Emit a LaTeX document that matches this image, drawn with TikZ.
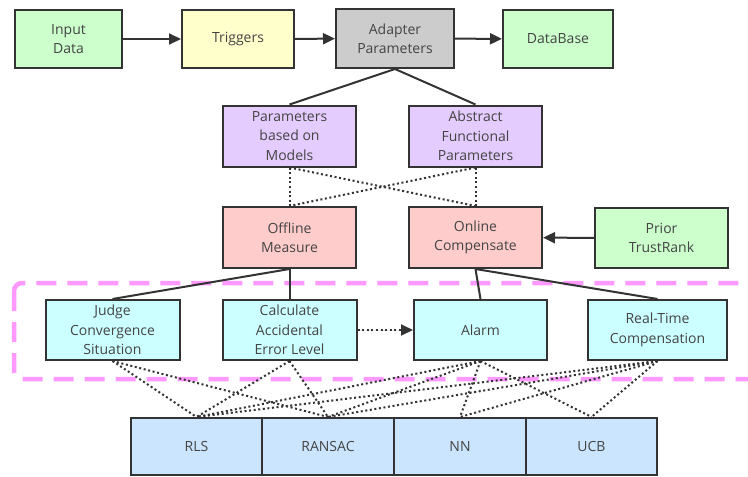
\documentclass[tikz,border=0pt]{standalone}
\usepackage{fontspec}
\setmainfont{Open Sans}
\usetikzlibrary{arrows.meta,shadows}
\definecolor{cgreen}{HTML}{CCFFCC}
\definecolor{cyellow}{HTML}{FFFFCC}
\definecolor{cgray}{HTML}{CCCCCC}
\definecolor{cpurple}{HTML}{E5CCFF}
\definecolor{cpink}{HTML}{FFCCCC}
\definecolor{ccyan}{HTML}{CCFFFF}
\definecolor{cblue}{HTML}{CCE5FF}
\definecolor{cline}{HTML}{333333}
\definecolor{ctext}{HTML}{444444}
\definecolor{cmag}{HTML}{FF99FF}
\begin{document}
\begin{tikzpicture}[x=1pt,y=-1pt,
  box/.style={draw=cline,line width=2pt,align=center,inner sep=2pt,
    font=\fontsize{14}{19.5}\selectfont,text=ctext,
    drop shadow={shadow xshift=1pt,shadow yshift=-1.2pt,fill=black,opacity=0.25}},
  conn/.style={draw=cline,line width=2pt},
  dots/.style={draw=cline,line width=2pt,dash pattern=on 2pt off 2.6pt},
  arr/.style={-{Triangle[length=12pt,width=11pt]}},
]
\useasboundingbox (0,0) rectangle (748,477);
\fill[white] (0,0) rectangle (748,477);
% dashed region
\begin{scope}
\clip (0,0) rectangle (748,477);
\draw[cmag,line width=4.5pt,dash pattern=on 20pt off 11pt,rounded corners=8pt] (14,283) rectangle (770,379);
\end{scope}
% row 1
\node[box,fill=cgreen,minimum width=107pt,minimum height=58pt] (in) at (68.5,39) {Input\\Data};
\node[box,fill=cyellow,minimum width=112pt,minimum height=58pt] (trig) at (238,39) {Triggers};
\node[box,fill=cgray,minimum width=118pt,minimum height=59pt] (adp) at (395,38.5) {Adapter\\Parameters};
\node[box,fill=cgreen,minimum width=110pt,minimum height=58pt] (db) at (558,39) {DataBase};
% row 2
\node[box,fill=cpurple,minimum width=133pt,minimum height=61pt] (pm) at (289.5,136) {Parameters\\based on\\Models};
\node[box,fill=cpurple,minimum width=133pt,minimum height=61pt] (af) at (475.5,136) {Abstract\\Functional\\Parameters};
% row 3
\node[box,fill=cpink,minimum width=133pt,minimum height=61pt] (off) at (289.5,237.5) {Offline\\Measure};
\node[box,fill=cpink,minimum width=133pt,minimum height=61pt] (on) at (475.5,237.5) {Online\\Compensate};
\node[box,fill=cgreen,minimum width=133pt,minimum height=60pt] (pr) at (661.5,238) {Prior\\TrustRank};
% row 4
\node[box,fill=ccyan,minimum width=134pt,minimum height=60pt] (jc) at (112.5,330) {Judge\\Convergence\\Situation};
\node[box,fill=ccyan,minimum width=134pt,minimum height=60pt] (ca) at (289.5,330) {Calculate\\Accidental\\Error Level};
\node[box,fill=ccyan,minimum width=133pt,minimum height=60pt] (al) at (480.5,330) {Alarm};
\node[box,fill=ccyan,minimum width=139pt,minimum height=60pt] (rt) at (657.5,330) {Real-Time\\Compensation};
% row 5
\node[box,fill=cblue,minimum width=131pt,minimum height=57pt] (rls) at (196.5,446.5) {RLS};
\node[box,fill=cblue,minimum width=132pt,minimum height=57pt] (ran) at (328,446.5) {RANSAC};
\node[box,fill=cblue,minimum width=132pt,minimum height=57pt] (nn) at (460,446.5) {NN};
\node[box,fill=cblue,minimum width=131pt,minimum height=57pt] (ucb) at (591.5,446.5) {UCB};
% solid arrows
\draw[conn,arr,fill=cline] (in) -- (trig);
\draw[conn,arr,fill=cline] (trig) -- (adp);
\draw[conn,arr,fill=cline] (adp) -- (db);
\draw[conn,arr,fill=cline] (pr) -- (on);
% solid lines
\draw[conn] (adp.south) -- (pm.north);
\draw[conn] (adp.south) -- (af.north);
\draw[conn] (off.south) -- (jc.north);
\draw[conn] (off.south) -- (ca.north);
\draw[conn] (on.south) -- (al.north);
\draw[conn] (on.south) -- (rt.north);
% dotted
\draw[dots] (pm.south) -- (off.north);
\draw[dots] (pm.south) -- (on.north);
\draw[dots] (af.south) -- (off.north);
\draw[dots] (af.south) -- (on.north);
\draw[dots,arr,fill=cline] (ca.east) -- (al.west);
\foreach \s/\t in {jc/rls,jc/ran,ca/rls,ca/ran,al/rls,al/ran,al/nn,al/ucb,rt/rls,rt/ran,rt/nn,rt/ucb}
  \draw[dots] (\s.south) -- (\t.north);
\end{tikzpicture}
\end{document}
